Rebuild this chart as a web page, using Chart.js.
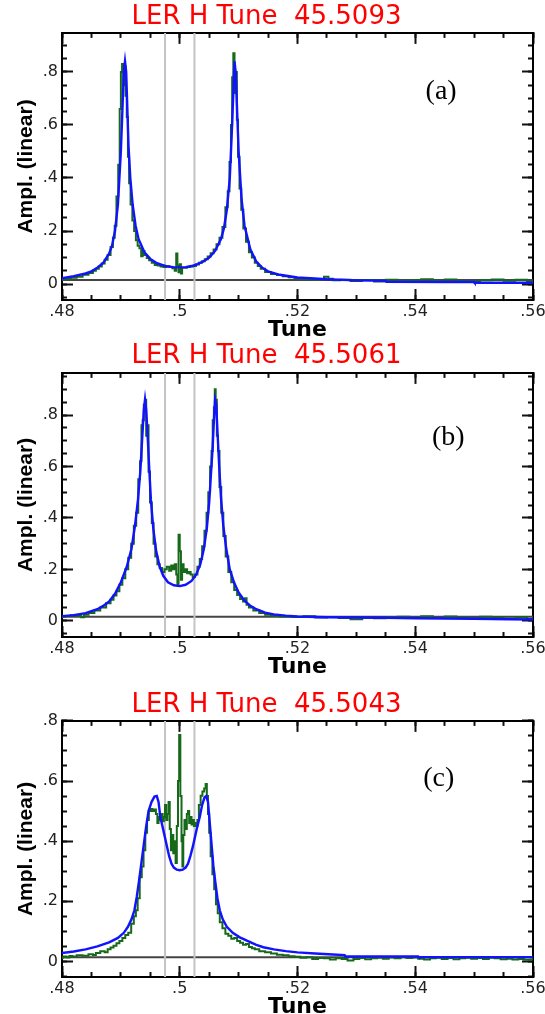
<!DOCTYPE html>
<html><head><meta charset="utf-8">
<script src="https://cdn.jsdelivr.net/npm/chart.js@4.4.1/dist/chart.umd.min.js"></script>
<style>
html,body{margin:0;padding:0;background:#fff;width:545px;height:1014px;overflow:hidden;position:relative}
canvas{position:absolute;left:0}
</style></head>
<body>
<canvas id="ca" width="545" height="345" style="top:0px"></canvas>
<canvas id="cb" width="545" height="342" style="top:340px"></canvas>
<canvas id="cc" width="545" height="342" style="top:680px"></canvas>
<script>
// ---------- axis ticks ----------
const xTickValues = [0.48, 0.50, 0.52, 0.54, 0.56];
const xTickLabels = ['.48', '.5', '.52', '.54', '.56'];
const xMinorTicks = [0.480,0.485,0.490,0.495,0.500,0.505,0.510,0.515,0.520,0.525,0.530,0.535,0.540,0.545,0.550,0.555,0.560];
const yTickValues = [0, 0.2, 0.4, 0.6, 0.8];
const yTickLabels = ['0', '.2', '.4', '.6', '.8'];
const yMinorTicks = [-0.05,0,0.05,0.10,0.15,0.20,0.25,0.30,0.35,0.40,0.45,0.50,0.55,0.60,0.65,0.70,0.75,0.80,0.85,0.90,0.95];
const guideTunes = [0.4975, 0.5025];

// ---------- panel titles / tags ----------
const titles = ['LER H Tune  45.5093', 'LER H Tune  45.5061', 'LER H Tune  45.5043'];
const tags = ['(a)', '(b)', '(c)'];
const yRanges = [[-0.06, 0.947], [-0.063, 0.964], [-0.052, 0.80]];
const baseLevels = [0.015, 0.016, 0.014];

// ---------- panel (a) ----------
const fitA = [[0.4800,0.022],[0.4820,0.030],[0.4840,0.040],[0.4850,0.048],[0.4860,0.062],[0.4870,0.080],[0.4880,0.115],[0.4885,0.145],[0.4890,0.200],[0.4895,0.300],[0.4900,0.500],[0.4903,0.680],[0.4905,0.800],[0.4907,0.840],[0.4909,0.800],[0.4911,0.660],[0.4913,0.520],[0.4916,0.400],[0.4920,0.300],[0.4925,0.220],[0.4930,0.170],[0.4940,0.120],[0.4950,0.095],[0.4960,0.080],[0.4970,0.072],[0.4980,0.066],[0.4990,0.064],[0.5000,0.063],[0.5010,0.064],[0.5020,0.068],[0.5030,0.075],[0.5040,0.085],[0.5050,0.100],[0.5060,0.125],[0.5070,0.170],[0.5075,0.210],[0.5080,0.280],[0.5085,0.400],[0.5088,0.550],[0.5091,0.720],[0.5093,0.840],[0.5095,0.800],[0.5097,0.680],[0.5100,0.500],[0.5105,0.320],[0.5110,0.220],[0.5120,0.130],[0.5130,0.085],[0.5140,0.062],[0.5150,0.048],[0.5170,0.035],[0.5200,0.025],[0.5250,0.018],[0.5300,0.014],[0.5350,0.012],[0.5351,0.009],[0.5450,0.008],[0.5500,0.008],[0.5501,0.005],[0.5600,0.005]];
const measA = [[0.4800,0.018],[0.4810,0.020],[0.4820,0.024],[0.4830,0.028],[0.4840,0.035],[0.4850,0.042],[0.4855,0.050],[0.4860,0.058],[0.4865,0.066],[0.4870,0.078],[0.4875,0.092],[0.4880,0.110],[0.4885,0.140],[0.4888,0.175],[0.4891,0.220],[0.4894,0.330],[0.4897,0.450],[0.4899,0.660],[0.4901,0.800],[0.4903,0.830],[0.4905,0.750],[0.4907,0.820],[0.4909,0.710],[0.4911,0.630],[0.4913,0.480],[0.4915,0.380],[0.4918,0.300],[0.4921,0.240],[0.4924,0.200],[0.4927,0.165],[0.4930,0.145],[0.4933,0.135],[0.4936,0.105],[0.4938,0.125],[0.4942,0.110],[0.4946,0.098],[0.4950,0.090],[0.4955,0.080],[0.4960,0.072],[0.4965,0.070],[0.4970,0.066],[0.4975,0.064],[0.4980,0.068],[0.4985,0.064],[0.4990,0.060],[0.4993,0.050],[0.4995,0.115],[0.4997,0.070],[0.4999,0.045],[0.5001,0.075],[0.5003,0.040],[0.5005,0.062],[0.5010,0.062],[0.5015,0.064],[0.5020,0.066],[0.5025,0.068],[0.5030,0.074],[0.5035,0.080],[0.5040,0.086],[0.5045,0.094],[0.5050,0.104],[0.5055,0.116],[0.5060,0.130],[0.5065,0.150],[0.5070,0.175],[0.5075,0.215],[0.5080,0.290],[0.5083,0.350],[0.5086,0.460],[0.5088,0.600],[0.5090,0.780],[0.5092,0.870],[0.5094,0.720],[0.5096,0.800],[0.5098,0.620],[0.5100,0.480],[0.5103,0.360],[0.5106,0.280],[0.5110,0.210],[0.5115,0.160],[0.5120,0.120],[0.5125,0.100],[0.5130,0.080],[0.5135,0.068],[0.5140,0.058],[0.5150,0.046],[0.5160,0.038],[0.5170,0.034],[0.5180,0.030],[0.5190,0.026],[0.5200,0.022],[0.5210,0.020],[0.5220,0.018],[0.5230,0.016],[0.5240,0.018],[0.5250,0.028],[0.5255,0.020],[0.5265,0.014],[0.5280,0.016],[0.5300,0.012],[0.5320,0.015],[0.5340,0.010],[0.5360,0.016],[0.5380,0.012],[0.5400,0.015],[0.5420,0.018],[0.5440,0.013],[0.5460,0.017],[0.5480,0.012],[0.5500,0.010],[0.5520,0.014],[0.5540,0.017],[0.5560,0.013],[0.5580,0.016],[0.5600,0.011]];

// ---------- panel (b) ----------
const fitB = [[0.4800,0.018],[0.4820,0.022],[0.4840,0.030],[0.4860,0.045],[0.4870,0.058],[0.4880,0.075],[0.4890,0.105],[0.4900,0.150],[0.4910,0.210],[0.4918,0.280],[0.4924,0.370],[0.4929,0.470],[0.4933,0.580],[0.4936,0.700],[0.4939,0.820],[0.4941,0.860],[0.4943,0.820],[0.4945,0.740],[0.4948,0.600],[0.4951,0.470],[0.4955,0.360],[0.4960,0.270],[0.4966,0.210],[0.4972,0.175],[0.4980,0.150],[0.4990,0.138],[0.5000,0.135],[0.5010,0.140],[0.5020,0.155],[0.5028,0.180],[0.5035,0.220],[0.5041,0.280],[0.5046,0.360],[0.5050,0.460],[0.5053,0.570],[0.5056,0.680],[0.5058,0.780],[0.5060,0.860],[0.5062,0.840],[0.5064,0.740],[0.5067,0.600],[0.5070,0.480],[0.5074,0.370],[0.5079,0.280],[0.5085,0.200],[0.5092,0.150],[0.5100,0.110],[0.5110,0.078],[0.5120,0.058],[0.5130,0.045],[0.5145,0.032],[0.5160,0.025],[0.5180,0.020],[0.5200,0.017],[0.5250,0.014],[0.5300,0.013],[0.5350,0.012],[0.5400,0.010],[0.5450,0.009],[0.5500,0.008],[0.5560,0.006],[0.5600,0.005]];
const measB = [[0.4800,0.016],[0.4810,0.019],[0.4820,0.022],[0.4830,0.020],[0.4835,0.014],[0.4840,0.024],[0.4850,0.030],[0.4860,0.040],[0.4870,0.052],[0.4880,0.068],[0.4885,0.082],[0.4890,0.098],[0.4895,0.115],[0.4900,0.140],[0.4905,0.165],[0.4910,0.200],[0.4915,0.245],[0.4920,0.300],[0.4924,0.370],[0.4928,0.420],[0.4931,0.550],[0.4934,0.620],[0.4936,0.760],[0.4938,0.780],[0.4940,0.840],[0.4942,0.860],[0.4944,0.720],[0.4946,0.760],[0.4948,0.580],[0.4951,0.460],[0.4954,0.380],[0.4957,0.300],[0.4960,0.250],[0.4964,0.220],[0.4968,0.205],[0.4972,0.190],[0.4976,0.200],[0.4980,0.210],[0.4984,0.195],[0.4987,0.215],[0.4990,0.200],[0.4993,0.220],[0.4995,0.180],[0.4997,0.140],[0.4999,0.335],[0.5001,0.270],[0.5003,0.160],[0.5005,0.220],[0.5008,0.190],[0.5011,0.200],[0.5014,0.185],[0.5017,0.190],[0.5020,0.180],[0.5024,0.170],[0.5028,0.180],[0.5032,0.210],[0.5036,0.240],[0.5040,0.290],[0.5044,0.350],[0.5047,0.420],[0.5050,0.500],[0.5053,0.600],[0.5055,0.660],[0.5057,0.780],[0.5059,0.830],[0.5060,0.900],[0.5062,0.860],[0.5064,0.720],[0.5066,0.660],[0.5069,0.520],[0.5072,0.420],[0.5076,0.330],[0.5080,0.250],[0.5085,0.190],[0.5090,0.150],[0.5095,0.120],[0.5100,0.100],[0.5105,0.085],[0.5110,0.075],[0.5112,0.088],[0.5115,0.062],[0.5120,0.052],[0.5130,0.040],[0.5140,0.030],[0.5150,0.024],[0.5160,0.020],[0.5180,0.017],[0.5200,0.015],[0.5220,0.018],[0.5240,0.013],[0.5260,0.015],[0.5280,0.011],[0.5300,0.006],[0.5320,0.012],[0.5340,0.010],[0.5360,0.014],[0.5380,0.016],[0.5400,0.012],[0.5420,0.018],[0.5440,0.011],[0.5460,0.017],[0.5480,0.014],[0.5500,0.010],[0.5520,0.016],[0.5540,0.012],[0.5560,0.009],[0.5580,0.013],[0.5600,0.007]];

// ---------- panel (c) ----------
const fitC = [[0.4800,0.028],[0.4820,0.033],[0.4840,0.040],[0.4860,0.050],[0.4880,0.063],[0.4895,0.078],[0.4905,0.095],[0.4912,0.115],[0.4918,0.140],[0.4923,0.170],[0.4927,0.215],[0.4931,0.270],[0.4935,0.330],[0.4939,0.390],[0.4943,0.450],[0.4947,0.500],[0.4952,0.530],[0.4957,0.548],[0.4961,0.550],[0.4964,0.530],[0.4967,0.480],[0.4970,0.455],[0.4974,0.420],[0.4978,0.385],[0.4982,0.350],[0.4986,0.325],[0.4990,0.312],[0.4995,0.305],[0.5000,0.303],[0.5005,0.305],[0.5010,0.312],[0.5014,0.325],[0.5018,0.350],[0.5022,0.380],[0.5026,0.415],[0.5030,0.450],[0.5034,0.480],[0.5038,0.520],[0.5042,0.545],[0.5045,0.550],[0.5048,0.530],[0.5051,0.460],[0.5054,0.390],[0.5057,0.320],[0.5060,0.270],[0.5064,0.210],[0.5068,0.170],[0.5073,0.140],[0.5080,0.115],[0.5090,0.095],[0.5102,0.080],[0.5115,0.068],[0.5130,0.055],[0.5142,0.047],[0.5160,0.040],[0.5180,0.034],[0.5200,0.030],[0.5230,0.026],[0.5260,0.023],[0.5280,0.021],[0.5281,0.016],[0.5405,0.016],[0.5406,0.014],[0.5600,0.014]];
const measC = [[0.4800,0.012],[0.4805,0.016],[0.4810,0.013],[0.4815,0.018],[0.4820,0.016],[0.4830,0.020],[0.4840,0.019],[0.4850,0.024],[0.4855,0.021],[0.4860,0.028],[0.4870,0.034],[0.4875,0.030],[0.4880,0.040],[0.4885,0.046],[0.4890,0.052],[0.4895,0.060],[0.4900,0.068],[0.4905,0.078],[0.4910,0.088],[0.4915,0.095],[0.4920,0.125],[0.4924,0.150],[0.4927,0.170],[0.4930,0.210],[0.4934,0.280],[0.4937,0.316],[0.4940,0.370],[0.4943,0.428],[0.4946,0.470],[0.4949,0.500],[0.4952,0.507],[0.4955,0.500],[0.4958,0.505],[0.4961,0.490],[0.4963,0.460],[0.4965,0.480],[0.4967,0.470],[0.4970,0.490],[0.4972,0.466],[0.4974,0.480],[0.4976,0.520],[0.4978,0.470],[0.4980,0.490],[0.4982,0.530],[0.4984,0.440],[0.4986,0.370],[0.4988,0.420],[0.4990,0.360],[0.4992,0.400],[0.4994,0.327],[0.4996,0.450],[0.4998,0.600],[0.5000,0.753],[0.5002,0.550],[0.5004,0.400],[0.5005,0.316],[0.5007,0.420],[0.5009,0.470],[0.5011,0.440],[0.5013,0.490],[0.5015,0.500],[0.5017,0.460],[0.5019,0.480],[0.5021,0.455],[0.5023,0.470],[0.5025,0.450],[0.5027,0.460],[0.5029,0.450],[0.5031,0.470],[0.5034,0.520],[0.5037,0.551],[0.5040,0.565],[0.5043,0.575],[0.5045,0.590],[0.5047,0.550],[0.5049,0.490],[0.5051,0.428],[0.5054,0.350],[0.5057,0.290],[0.5060,0.240],[0.5063,0.190],[0.5066,0.160],[0.5070,0.130],[0.5075,0.110],[0.5080,0.092],[0.5085,0.085],[0.5090,0.075],[0.5095,0.078],[0.5100,0.068],[0.5105,0.062],[0.5110,0.055],[0.5115,0.058],[0.5120,0.048],[0.5125,0.044],[0.5130,0.040],[0.5140,0.034],[0.5150,0.030],[0.5160,0.026],[0.5170,0.022],[0.5180,0.020],[0.5190,0.017],[0.5200,0.015],[0.5210,0.012],[0.5220,0.014],[0.5230,0.008],[0.5240,0.011],[0.5250,0.010],[0.5260,0.006],[0.5270,0.010],[0.5280,0.008],[0.5290,0.003],[0.5300,0.008],[0.5310,0.011],[0.5320,0.007],[0.5330,0.010],[0.5340,0.012],[0.5350,0.009],[0.5360,0.013],[0.5370,0.010],[0.5380,0.014],[0.5390,0.011],[0.5400,0.013],[0.5410,0.009],[0.5420,0.006],[0.5430,0.010],[0.5440,0.012],[0.5450,0.008],[0.5460,0.011],[0.5470,0.007],[0.5480,0.010],[0.5490,0.012],[0.5500,0.009],[0.5510,0.011],[0.5520,0.008],[0.5530,0.012],[0.5540,0.010],[0.5550,0.007],[0.5560,0.009],[0.5570,0.006],[0.5580,0.008],[0.5590,0.005],[0.5600,0.006]];

const fits = [fitA, fitB, fitC];
const meas = [measA, measB, measC];
const tagPos = [[0.5444, 0.725], [0.5456, 0.711], [0.5440, 0.607]];
const titlePads = [{top:2,bottom:1},{top:1,bottom:2},{top:10,bottom:1}];

const toXY = arr => arr.map(p => ({x: p[0], y: p[1]}));

const panelTag = {
  id: 'panelTag',
  afterDatasetsDraw(chart, args, o) {
    const {ctx} = chart; const x = chart.scales.x, y = chart.scales.y;
    ctx.save();
    ctx.font = '28px "Liberation Serif", "Times New Roman", serif';
    ctx.fillStyle = '#000'; ctx.textAlign = 'center'; ctx.textBaseline = 'middle';
    ctx.fillText(o.text, x.getPixelForValue(o.x), y.getPixelForValue(o.y));
    ctx.restore();
  }
};

function makePanel(id, i) {
  const [yMin, yMax] = yRanges[i];
  const majorGrid = {drawOnChartArea:false, drawTicks:true, tickLength:-11, tickWidth:2, tickColor:'#111'};
  const minorGrid = {drawOnChartArea:false, drawTicks:true, tickLength:-5, tickWidth:2, tickColor:'#111'};
  const frame = {display:true, color:'#000', width:2};
  const setTicks = vals => s => { s.ticks = vals.filter(v => v >= s.min - 1e-9 && v <= s.max + 1e-9).map(v => ({value:v})); };
  const fixH = h => s => { s.height = h; s.paddingLeft = 0; s.paddingRight = 0; s.paddingTop = 0; s.paddingBottom = 0; };
  const fixW = w => s => { s.width = w; s.paddingLeft = 0; s.paddingRight = 0; s.paddingTop = 0; s.paddingBottom = 0; };
  const hidden = {display:false};
  const xBase = {type:'linear', min:0.48, max:0.56};
  const yBase = {type:'linear', min:yMin, max:yMax};

  const datasets = [
    {data: toXY(fits[i]), borderColor:'#1212ff', borderWidth:2.4, pointRadius:0, tension:0},
    {data: toXY(meas[i]), borderColor:'#17691a', borderWidth:2, pointRadius:0, stepped:'middle'},
  ];
  guideTunes.forEach(t => datasets.push({data:[{x:t,y:yMin},{x:t,y:yMax}], borderColor:'#c4c4c4', borderWidth:2, pointRadius:0}));
  datasets.push({data:[{x:0.48,y:baseLevels[i]},{x:0.56,y:baseLevels[i]}], borderColor:'#444', borderWidth:2, pointRadius:0});

  return new Chart(document.getElementById(id), {
    type: 'line',
    data: {datasets},
    plugins: [panelTag],
    options: {
      responsive:false, animation:false, devicePixelRatio:1,
      layout:{padding:{left:0, right:12, top:0, bottom:0}},
      plugins:{
        legend:{display:false}, tooltip:{enabled:false},
        title:{display:true, text:titles[i], color:'#ff0000', font:{family:'DejaVu Sans', size:26, weight:'normal', lineHeight:1.15}, padding:titlePads[i]},
        panelTag:{text:tags[i], x:tagPos[i][0], y:tagPos[i][1]}
      },
      scales:{
        x: {...xBase, position:'bottom', weight:1, afterBuildTicks:setTicks(xTickValues), afterFit:fixH(45),
            ticks:{autoSkip:false, maxRotation:0, padding:13, color:'#222', font:{family:'DejaVu Sans', size:16}, callback:(v, k) => xTickLabels[xTickValues.indexOf(v)] ?? ''},
            grid:majorGrid, border:frame,
            title:{display:true, text:'Tune', color:'#000', font:{family:'DejaVu Sans', size:22, weight:'bold', lineHeight:1.2}, padding:{top:0, bottom:1.8}}},
        xMinor: {...xBase, position:'bottom', weight:0, afterBuildTicks:setTicks(xMinorTicks), afterFit:fixH(0), ticks:{display:false, autoSkip:false}, grid:minorGrid, border:hidden},
        xTop: {...xBase, position:'top', afterBuildTicks:setTicks(xTickValues), afterFit:fixH(0), ticks:{display:false, autoSkip:false}, grid:majorGrid, border:frame},
        xTopMinor: {...xBase, position:'top', afterBuildTicks:setTicks(xMinorTicks), afterFit:fixH(0), ticks:{display:false, autoSkip:false}, grid:minorGrid, border:hidden},
        y: {...yBase, position:'left', weight:1, afterBuildTicks:setTicks(yTickValues), afterFit:fixW(62),
            ticks:{autoSkip:false, padding:15, color:'#222', font:{family:'DejaVu Sans', size:16}, callback:(v) => yTickLabels[yTickValues.indexOf(v)] ?? ''},
            grid:majorGrid, border:frame,
            title:{display:true, text:'Ampl. (linear)', color:'#000', font:{family:'Liberation Sans', size:21, weight:'bold', lineHeight:1.2}, padding:{top:14, bottom:0}}},
        yMinor: {...yBase, position:'left', weight:0, afterBuildTicks:setTicks(yMinorTicks), afterFit:fixW(0), ticks:{display:false, autoSkip:false}, grid:minorGrid, border:hidden},
        yRight: {...yBase, position:'right', afterBuildTicks:setTicks(yTickValues), afterFit:fixW(0), ticks:{display:false, autoSkip:false}, grid:majorGrid, border:frame},
        yRightMinor: {...yBase, position:'right', afterBuildTicks:setTicks(yMinorTicks), afterFit:fixW(0), ticks:{display:false, autoSkip:false}, grid:minorGrid, border:hidden}
      }
    }
  });
}
makePanel('ca', 0);
makePanel('cb', 1);
makePanel('cc', 2);
</script>
</body></html>
